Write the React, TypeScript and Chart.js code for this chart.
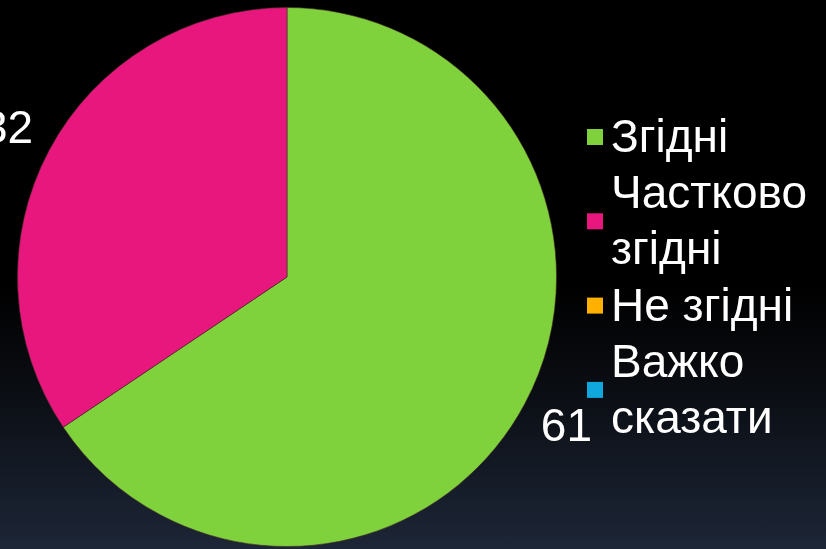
import React, { useEffect, useRef } from "react";
import { Chart, registerables } from "chart.js";

Chart.register(...registerables);

const categories = ["Згідні", "Частково згідні", "Не згідні", "Важко сказати"];
const legendLines = [["Згідні"], ["Частково", "згідні"], ["Не згідні"], ["Важко", "сказати"]];
const values = [61, 32, 0, 0];
const colors = ["#80D23C", "#E8177E", "#FFB000", "#10A8DC"];

const FONT = '46px "Liberation Sans", Arial, sans-serif';

const labelsPlugin = {
  id: "sliceLabels",
  afterDatasetsDraw(chart: any) {
    const ctx = chart.ctx;
    const meta = chart.getDatasetMeta(0);
    ctx.save();
    ctx.font = FONT;
    ctx.fillStyle = "#ffffff";
    ctx.textAlign = "center";
    ctx.textBaseline = "middle";
    meta.data.forEach((arc: any, i: number) => {
      const v = values[i];
      if (!v) return;
      const { x, y, startAngle, endAngle, outerRadius } = arc.getProps(
        ["x", "y", "startAngle", "endAngle", "outerRadius"],
        true
      );
      const mid = (startAngle + endAngle) / 2;
      const r = outerRadius * 1.175;
      ctx.fillText(String(v), x + Math.cos(mid) * r, y + Math.sin(mid) * r + 2);
    });
    ctx.restore();
  },
};

const legendPlugin = {
  id: "customLegend",
  afterDraw(chart: any) {
    const ctx = chart.ctx;
    const lineH = 56.2;
    const firstBaseline = 152;
    const boxX = 587;
    const textX = 611;
    const box = 16;
    const capHalf = 16.5;
    ctx.save();
    ctx.font = FONT;
    ctx.textAlign = "left";
    ctx.textBaseline = "alphabetic";
    let line = 0;
    legendLines.forEach((lines, i) => {
      const baselines = lines.map((_, k) => firstBaseline + (line + k) * lineH);
      const centers = baselines.map((b) => b - capHalf);
      const cy = (centers[0] + centers[centers.length - 1]) / 2 + 1.5;
      ctx.fillStyle = colors[i];
      ctx.fillRect(boxX, cy - box / 2, box, box);
      ctx.fillStyle = "#ffffff";
      lines.forEach((t, k) => ctx.fillText(t, textX, baselines[k]));
      line += lines.length;
    });
    ctx.restore();
  },
};

export default function App() {
  const ref = useRef<HTMLCanvasElement | null>(null);
  useEffect(() => {
    if (!ref.current) return;
    const chart = new Chart(ref.current, {
      type: "pie",
      data: {
        labels: categories,
        datasets: [
          {
            data: values,
            backgroundColor: colors,
            borderColor: "rgba(70,40,40,0.6)",
            borderWidth: 1,
          },
        ],
      },
      options: {
        animation: false,
        responsive: true,
        maintainAspectRatio: false,
        layout: { padding: { left: 17, right: 269, top: 7, bottom: 2 } },
        plugins: {
          legend: { display: false },
          tooltip: { enabled: false },
        },
      },
      plugins: [labelsPlugin, legendPlugin],
    });
    return () => chart.destroy();
  }, []);
  return (
    <div
      style={{
        position: "fixed",
        left: 0,
        top: 0,
        width: 826,
        height: 549,
        background:
          "linear-gradient(to bottom, #000000 0%, #000000 52%, #0b0e14 72%, #1d2637 100%)",
      }}
    >
      <canvas ref={ref} />
    </div>
  );
}
